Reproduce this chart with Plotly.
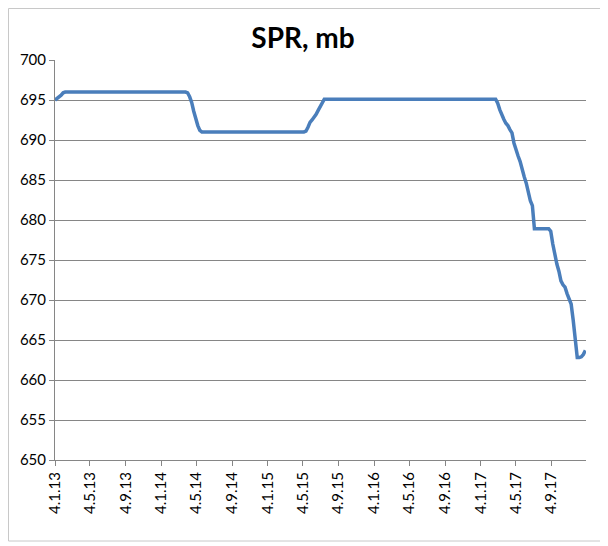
import plotly.graph_objects as go

# ---- data (weekly SPR stocks, million barrels) ----
dates = [
    "2013-01-04", "2013-01-11", "2013-01-18", "2013-01-25", "2013-02-01", "2013-02-08",
    "2014-03-28", "2014-04-04", "2014-04-11", "2014-04-18", "2014-04-25", "2014-05-02",
    "2014-05-09", "2014-05-16", "2014-05-23",
    "2015-05-08", "2015-05-15", "2015-05-22", "2015-05-29", "2015-06-05", "2015-06-12",
    "2015-06-19", "2015-06-26", "2015-07-03", "2015-07-10", "2015-07-17",
    "2017-02-24", "2017-03-03", "2017-03-10", "2017-03-17", "2017-03-24", "2017-03-31",
    "2017-04-07", "2017-04-14", "2017-04-21", "2017-04-28", "2017-05-05", "2017-05-12",
    "2017-05-19", "2017-05-26", "2017-06-02", "2017-06-09", "2017-06-16", "2017-06-23",
    "2017-06-30", "2017-07-07", "2017-08-25", "2017-09-01", "2017-09-08", "2017-09-15",
    "2017-09-22", "2017-09-29", "2017-10-06", "2017-10-13", "2017-10-20", "2017-10-27",
    "2017-11-03", "2017-11-10", "2017-11-17", "2017-11-24", "2017-12-01", "2017-12-08",
    "2017-12-15", "2017-12-22", "2017-12-29",
]
spr_mb = [
    695.0, 695.2, 695.3, 695.6, 695.9, 696.0,
    696.0, 695.9, 695.4, 694.7, 693.6, 692.6,
    691.8, 691.2, 691.0,
    691.0, 691.1, 691.6, 692.2, 692.5, 692.8,
    693.2, 693.7, 694.2, 694.7, 695.1,
    695.1, 694.6, 693.8, 693.1, 692.6, 692.1,
    691.8, 691.3, 690.9, 689.6, 688.7, 688.0,
    687.3, 686.2, 685.4, 684.6, 683.5, 682.4,
    681.8, 678.9, 678.9, 678.6, 677.0, 675.5,
    674.5, 673.6, 672.4, 671.9, 671.6, 670.8,
    670.2, 669.5, 667.5, 665.0, 662.8, 662.8,
    662.9, 663.2, 663.7,
]

tick_dates = [
    "2013-01-04", "2013-05-04", "2013-09-04", "2014-01-04", "2014-05-04", "2014-09-04",
    "2015-01-04", "2015-05-04", "2015-09-04", "2016-01-04", "2016-05-04", "2016-09-04",
    "2017-01-04", "2017-05-04", "2017-09-04",
]
tick_labels = [
    "4.1.13", "4.5.13", "4.9.13", "4.1.14", "4.5.14", "4.9.14",
    "4.1.15", "4.5.15", "4.9.15", "4.1.16", "4.5.16", "4.9.16",
    "4.1.17", "4.5.17", "4.9.17",
]

title_text = "SPR, mb"

# ---- layout geometry (pixels); the page body adds an 8px offset ----
W, H = 600, 538
L, R, T, B = 47, 22, 52, 86
FONT = "Lato, 'Open Sans', sans-serif"
AX = "#868686"


def px_x(x):
    return (x - L) / (W - L - R)


def px_y(y):
    return 1 - (y - T) / (H - T - B)


fig = go.Figure(
    go.Scatter(
        x=dates, y=spr_mb, mode="lines",
        line=dict(color="#4A7EBB", width=3.5),
        hoverinfo="skip",
    )
)

# chart-area frame
fig.add_shape(
    type="rect", xref="paper", yref="paper",
    x0=px_x(0.5), x1=px_x(593), y0=px_y(533), y1=px_y(0.5),
    line=dict(color="#C8C8C8", width=1), fillcolor="rgba(0,0,0,0)", layer="below",
)
# window edge lines at the far right
for xp in (595.5, 598.5):
    fig.add_shape(
        type="line", xref="paper", yref="paper",
        x0=px_x(xp), x1=px_x(xp), y0=px_y(H), y1=px_y(0),
        line=dict(color="#D4D4D4", width=1), layer="below",
    )

fig.update_layout(
    width=W, height=H,
    margin=dict(l=L, r=R, t=T, b=B),
    paper_bgcolor="white", plot_bgcolor="white",
    showlegend=False,
    font=dict(family=FONT, color="black"),
    title=dict(
        text="<b>" + title_text + "</b>",
        x=(303 - 8) / W, xref="container", xanchor="center",
        y=1 - 30 / H, yref="container", yanchor="middle",
        font=dict(family=FONT, size=28, color="black"),
    ),
    xaxis=dict(
        type="date",
        range=["2013-01-04", "2017-12-31"],
        tickmode="array", tickvals=tick_dates, ticktext=tick_labels,
        tickangle=-90,
        ticks="outside", ticklen=5, tickcolor=AX, tickwidth=1,
        showline=True, linecolor=AX, linewidth=1,
        showgrid=False, zeroline=False,
        tickfont=dict(family=FONT, size=15, color="black"),
    ),
    yaxis=dict(
        range=[650, 700],
        tick0=650, dtick=5,
        ticks="outside", ticklen=5, tickcolor=AX, tickwidth=1,
        showline=True, linecolor=AX, linewidth=1,
        showgrid=True, gridcolor=AX, gridwidth=1,
        zeroline=False,
        tickfont=dict(family=FONT, size=15, color="black"),
    ),
)

fig.write_html("out.html")
